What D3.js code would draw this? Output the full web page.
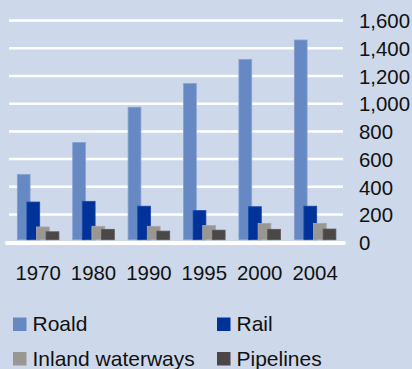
<!DOCTYPE html>
<html>
<head>
<meta charset="utf-8">
<script src="https://cdn.jsdelivr.net/npm/d3@7"></script>
<style>
  html, body { margin: 0; padding: 0; background: #cdd8ea; }
  svg { display: block; }
  text { font-family: "Liberation Sans", Arial, sans-serif; fill: #111; }
</style>
</head>
<body>
<svg id="chart" width="412" height="369"></svg>
<script>
const years = ["1970", "1980", "1990", "1995", "2000", "2004"];
const seriesNames = ["Roald", "Rail", "Inland waterways", "Pipelines"];
const road      = [490, 720, 975, 1145, 1320, 1460];
const rail      = [290, 295, 260, 228, 256, 260];
const waterways = [110, 115, 115, 120, 136, 136];
const pipelines = [75, 93, 80, 87, 93, 95];
const yTicks = [0, 200, 400, 600, 800, 1000, 1200, 1400, 1600];

const seriesValues = [road, rail, waterways, pipelines];
const colors = ["#6688c3", "#003399", "#999794", "#4b4747"];
const strokes = ["#86a2d2", "#1a47a6", "#a9a7a4", "#5b5757"];

const svg = d3.select("#chart");
svg.append("rect").attr("width", 412).attr("height", 369).attr("fill", "#cdd8ea");

const y = d3.scaleLinear().domain([0, 1600]).range([242.2, 20.6]);
const x0 = d3.scaleBand().domain(years).range([9, 341.4]).paddingInner(0).paddingOuter(0);
const x1 = d3.scaleBand().domain(seriesNames).range([8.3, 8.3 + 4 * 9.6]).padding(0);
const barW = 12.8;

// gridlines
svg.append("g").selectAll("line")
  .data(yTicks.filter(t => t > 0))
  .join("line")
  .attr("x1", 9).attr("x2", 343)
  .attr("y1", d => y(d)).attr("y2", d => y(d))
  .attr("stroke", "#ffffff").attr("stroke-width", 2.5);

// bars
const groups = svg.append("g").selectAll("g")
  .data(years)
  .join("g")
  .attr("transform", d => `translate(${x0(d)},0)`);

groups.selectAll("rect")
  .data((d, i) => seriesNames.map((s, k) => ({ s, k, v: seriesValues[k][i] })))
  .join("rect")
  .attr("x", d => x1(d.s))
  .attr("width", barW)
  .attr("y", d => y(d.v))
  .attr("height", d => y(0) - 2.5 - y(d.v))
  .attr("fill", d => colors[d.k])
  .attr("stroke", d => strokes[d.k])
  .attr("stroke-width", 0.8);

// baseline
svg.append("line")
  .attr("x1", 7).attr("x2", 344)
  .attr("y1", y(0) + 0.8).attr("y2", y(0) + 0.8)
  .attr("stroke", "#ffffff").attr("stroke-width", 4)
  .attr("stroke-linecap", "round");

// y axis labels (right)
const yAxis = d3.axisRight(y).tickValues(yTicks).tickSize(0).tickPadding(0)
  .tickFormat(d3.format(","));
const gy = svg.append("g").attr("transform", "translate(359,0)").call(yAxis);
gy.select(".domain").remove();
gy.selectAll("text")
  .attr("x", 0).attr("dy", null).attr("y", 7.2)
  .attr("text-anchor", "start")
  .style("font-family", '"Liberation Sans", Arial, sans-serif')
  .style("font-size", "20.4px").attr("fill", "#111");

// x axis labels
const clusterCenter = 8.3 + (3 * 9.6 + barW) / 2;
svg.append("g").selectAll("text")
  .data(years)
  .join("text")
  .attr("x", d => x0(d) + clusterCenter)
  .attr("y", 280)
  .attr("text-anchor", "middle")
  .style("font-size", "20.4px")
  .text(d => d);

// legend
const legendPos = [
  { x: 13, y: 331 }, { x: 217, y: 331 },
  { x: 13, y: 365.5 }, { x: 217, y: 365.5 }
];
const lg = svg.append("g").selectAll("g")
  .data(seriesNames)
  .join("g")
  .attr("transform", (d, i) => `translate(${legendPos[i].x},${legendPos[i].y})`);
lg.append("rect")
  .attr("x", 0).attr("y", -13.5).attr("width", 13.5).attr("height", 13.5)
  .attr("fill", (d, i) => colors[i]);
lg.append("text")
  .attr("x", 19.5).attr("y", 0)
  .style("font-size", "21px")
  .text(d => d);
</script>
</body>
</html>
